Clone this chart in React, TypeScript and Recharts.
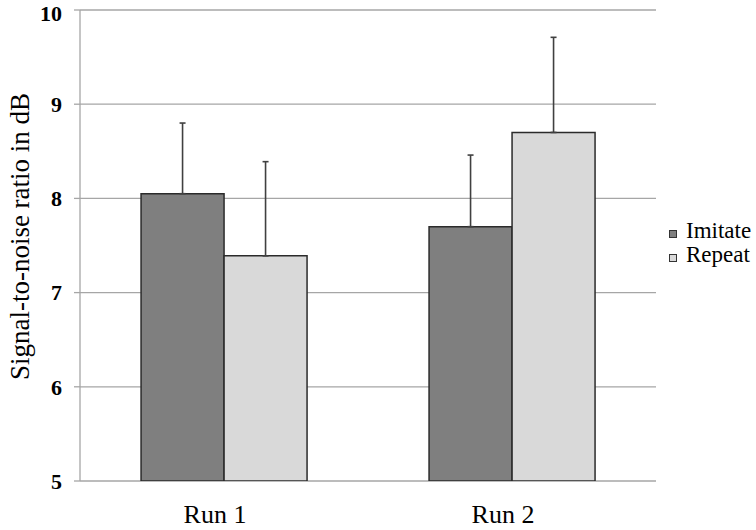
import { Bar, BarChart, CartesianGrid, ErrorBar, Legend, XAxis, YAxis } from "recharts";

const categories = ["Run 1", "Run 2"];
const imitate = [8.05, 7.7];
const repeat = [7.39, 8.7];
const imitateErr = [0.75, 0.76];
const repeatErr = [1.0, 1.01];
const yTicks = [5, 6, 7, 8, 9, 10];

const data = categories.map((run, i) => ({
  run,
  edge: i,
  imitate: imitate[i],
  repeat: repeat[i],
  imitateErr: [0, imitateErr[i]],
  repeatErr: [0, repeatErr[i]]
}));

const serif = "'Liberation Serif', 'Times New Roman', serif";
const axisGray = "#a6a6a6";

const series = [
  { key: "imitate", name: "Imitate", fill: "#7f7f7f" },
  { key: "repeat", name: "Repeat", fill: "#d9d9d9" }
];

const LegendBox = () => (
  <div style={{ fontFamily: serif, fontSize: 23, color: "#000", lineHeight: "24px" }}>
    {series.map((s) => (
      <div key={s.key} style={{ display: "flex", alignItems: "center", whiteSpace: "nowrap" }}>
        <span
          style={{
            display: "inline-block",
            width: 6,
            height: 6,
            background: s.fill,
            border: "1px solid #333",
            marginRight: 9,
            position: "relative",
            top: 3
          }}
        />
        {s.name}
      </div>
    ))}
  </div>
);

export default function App() {
  return (
    <div style={{ position: "absolute", left: 0, top: 0, width: 756, height: 530, background: "#fff" }}>
      <BarChart
        width={756}
        height={530}
        data={data}
        margin={{ top: 10, right: 100, bottom: 9, left: 0 }}
        barCategoryGap="21.2%"
        barGap={0}
      >
        <CartesianGrid xAxisId="cat" vertical={false} stroke={axisGray} strokeWidth={1.3} />
        <XAxis
          xAxisId="edge"
          type="number"
          dataKey="edge"
          domain={[0, 2]}
          ticks={[0, 1, 2]}
          tick={false}
          height={0}
          tickSize={5}
          stroke={axisGray}
          strokeWidth={1.3}
        />
        <XAxis
          xAxisId="cat"
          dataKey="run"
          height={40}
          axisLine={false}
          tickLine={false}
          tickSize={0}
          tickMargin={24}
          tick={{ fontFamily: serif, fontSize: 26, fill: "#000", dx: -9 }}
        />
        <YAxis
          domain={[5, 10]}
          ticks={yTicks}
          width={80}
          allowDataOverflow
          tickSize={6}
          tickMargin={12}
          stroke={axisGray}
          strokeWidth={1.3}
          tick={{ fontFamily: serif, fontSize: 22, fontWeight: "bold", fill: "#000" }}
          label={({ viewBox }: any) => (
            <text
              x={viewBox.x + 29}
              y={viewBox.y + viewBox.height / 2 - 9}
              transform={`rotate(-90, ${viewBox.x + 29}, ${viewBox.y + viewBox.height / 2 - 9})`}
              textAnchor="middle"
              fontFamily={serif}
              fontSize={27}
              fill="#000"
            >
              Signal-to-noise ratio in dB
            </text>
          )}
        />
        <Legend
          layout="vertical"
          align="center"
          verticalAlign="middle"
          content={<LegendBox />}
          wrapperStyle={{ left: 669, top: 219, width: 87 }}
        />
        {series.map((s) => (
          <Bar
            key={s.key}
            xAxisId="cat"
            dataKey={s.key}
            name={s.name}
            fill={s.fill}
            stroke="#2b2b2b"
            strokeWidth={1.5}
            isAnimationActive={false}
          >
            <ErrorBar
              dataKey={`${s.key}Err`}
              direction="y"
              width={3}
              stroke="#404040"
              strokeWidth={1.6}
              isAnimationActive={false}
            />
          </Bar>
        ))}
      </BarChart>
    </div>
  );
}
